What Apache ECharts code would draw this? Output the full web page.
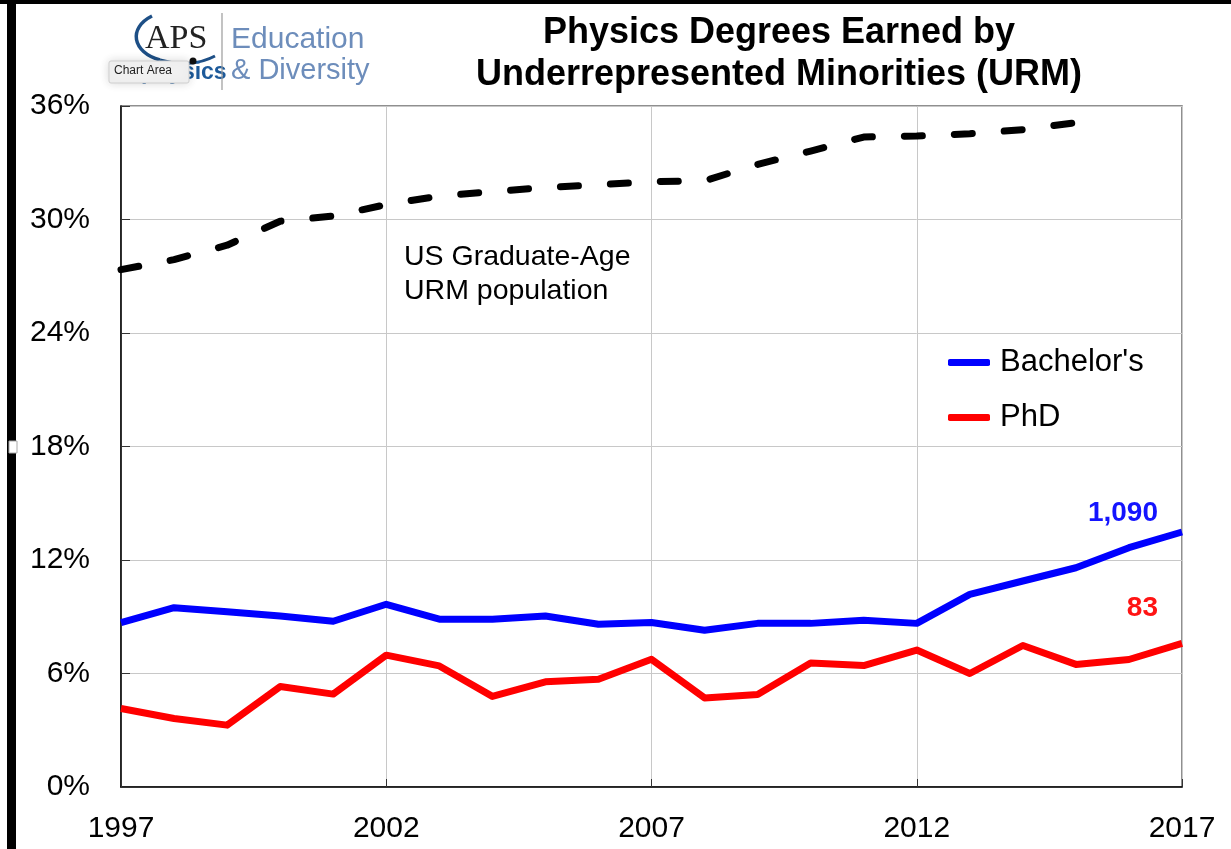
<!DOCTYPE html>
<html>
<head>
<meta charset="utf-8">
<script src="https://cdn.jsdelivr.net/npm/echarts@6/dist/echarts.min.js"></script>
<style>
html,body{margin:0;padding:0;background:#fff;}
#chart{width:1231px;height:849px;}
</style>
</head>
<body>
<div id="chart"></div>
<script>
// ---- data (percent of degrees / population) ----
const years = ['1997','1998','1999','2000','2001','2002','2003','2004','2005','2006','2007',
               '2008','2009','2010','2011','2012','2013','2014','2015','2016','2017'];
const bachelors = [8.69, 9.48, 9.27, 9.04, 8.76, 9.66, 8.87, 8.87, 9.04, 8.60, 8.70,
                   8.29, 8.65, 8.65, 8.82, 8.65, 10.18, 10.89, 11.59, 12.65, 13.48];
const phd = [4.15, 3.62, 3.27, 5.31, 4.91, 6.97, 6.40, 4.79, 5.56, 5.70, 6.75,
             4.71, 4.89, 6.56, 6.42, 7.24, 6.00, 7.48, 6.48, 6.74, 7.59];
const urmPopulation = [27.35, 27.88, 28.64, 29.91, 30.18, 30.79, 31.24, 31.47, 31.69, 31.84, 32.00,
                       32.05, 32.91, 33.62, 34.36, 34.41, 34.53, 34.75, 35.12, null, null];
const yTicks = [0, 6, 12, 18, 24, 30, 36];
const titleLines = ['Physics Degrees Earned by', 'Underrepresented Minorities (URM)'];
const bachelorsCount = '1,090';
const phdCount = '83';

const FONT = '"Liberation Sans", Arial, Helvetica, sans-serif';
const chart = echarts.init(document.getElementById('chart'), null, {renderer: 'canvas'});

const option = {
  backgroundColor: '#ffffff',
  animation: false,
  title: {
    text: titleLines.join('\n'),
    left: 774, top: 7, textAlign: 'center',
    textStyle: {fontFamily: FONT, fontSize: 36, fontWeight: 'bold', color: '#000', lineHeight: 42}
  },
  legend: {
    data: ['Bachelor\'s', 'PhD'],
    orient: 'vertical',
    left: 948, top: 347, padding: 0,
    itemWidth: 42, itemHeight: 7, itemGap: 24,
    icon: 'roundRect',
    textStyle: {fontFamily: FONT, fontSize: 31, color: '#000', padding: [0, 0, 0, 5]}
  },
  grid: {
    left: 121, right: 49, top: 106, bottom: 62,
    show: true, borderColor: '#6b6b6b', borderWidth: 1.5, backgroundColor: 'transparent'
  },
  xAxis: {
    type: 'category',
    data: years,
    boundaryGap: false,
    axisLine: {lineStyle: {color: '#000', width: 1.5}},
    axisTick: {show: true, inside: true, interval: 4, length: 8, lineStyle: {color: '#333'}},
    axisLabel: {interval: 4, fontFamily: FONT, fontSize: 30, color: '#000', margin: 27},
    splitLine: {show: true, interval: 4, lineStyle: {color: '#c8c8c8', width: 1}}
  },
  yAxis: {
    type: 'value',
    min: yTicks[0], max: yTicks[yTicks.length - 1], interval: 6,
    axisLine: {show: true, lineStyle: {color: '#000', width: 1.5}},
    axisTick: {show: true, inside: true, length: 9, lineStyle: {color: '#333'}},
    axisLabel: {formatter: '{value}%', fontFamily: FONT, fontSize: 30, color: '#000', margin: 31},
    splitLine: {show: true, lineStyle: {color: '#c8c8c8', width: 1}}
  },
  series: [
    {
      name: 'US Graduate-Age URM population',
      type: 'line',
      data: urmPopulation,
      showSymbol: false, symbol: 'none',
      connectNulls: false,
      lineStyle: {color: '#000', width: 7, type: [18, 32], cap: 'round', join: 'round'},
      itemStyle: {color: '#000'},
      z: 3
    },
    {
      name: 'Bachelor\'s',
      type: 'line',
      data: bachelors,
      showSymbol: false, symbol: 'none',
      lineStyle: {color: '#0000ff', width: 7, join: 'round'},
      itemStyle: {color: '#0000ff'},
      z: 4
    },
    {
      name: 'PhD',
      type: 'line',
      data: phd,
      showSymbol: false, symbol: 'none',
      lineStyle: {color: '#ff0000', width: 7, join: 'round'},
      itemStyle: {color: '#ff0000'},
      z: 4
    }
  ],
  graphic: [
    // screenshot frame
    {type: 'rect', shape: {x: 0, y: 0, width: 1231, height: 4}, style: {fill: '#000'}, z: 100},
    {type: 'rect', shape: {x: 7, y: 0, width: 9, height: 849}, style: {fill: '#000'}, z: 100},
    {type: 'rect', shape: {x: 9, y: 441, width: 8, height: 12}, style: {fill: '#fff', stroke: '#aaa', lineWidth: 1}, z: 101},
    // annotations
    {type: 'text', x: 404, y: 240, z: 10,
     style: {text: 'US Graduate-Age\nURM population', font: '28.5px ' + FONT, lineHeight: 34, fill: '#000'}},
    {type: 'text', x: 1158, y: 499, z: 10,
     style: {text: bachelorsCount, font: 'bold 28px ' + FONT, align: 'right', fill: '#1414ff'}},
    {type: 'text', x: 1158, y: 594, z: 10,
     style: {text: phdCount, font: 'bold 28px ' + FONT, align: 'right', fill: '#ff1414'}},
    // logo
    {type: 'bezierCurve', z: 9,
     shape: {x1: 152, y1: 16, cpx1: 128, cpy1: 28, cpx2: 132, cpy2: 52, x2: 160, y2: 60},
     style: {stroke: '#1d4f86', lineWidth: 3.5, fill: null}},
    {type: 'bezierCurve', z: 9,
     shape: {x1: 160, y1: 60, cpx1: 180, cpy1: 66, cpx2: 200, cpy2: 64, x2: 215, y2: 56},
     style: {stroke: '#1d4f86', lineWidth: 3, fill: null}},
    {type: 'text', x: 145, y: 22, z: 10,
     style: {text: 'APS', font: '34px "Liberation Serif", "DejaVu Serif", serif', fill: '#222'}},
    {type: 'circle', shape: {cx: 193, cy: 61, r: 3.5}, style: {fill: '#111'}, z: 11},
    {type: 'text', x: 141, y: 61, z: 10,
     style: {text: 'physics', font: 'bold 23px ' + FONT, fill: '#1d5a9a'}},
    {type: 'line', shape: {x1: 222, y1: 13, x2: 222, y2: 90}, style: {stroke: '#9a9a9a', lineWidth: 1.2}, z: 10},
    {type: 'text', x: 231, y: 25, z: 10,
     style: {text: 'Education', font: '30px ' + FONT, fill: '#6d8dbb'}},
    {type: 'text', x: 231, y: 56, z: 10,
     style: {text: '& Diversity', font: '29px ' + FONT, fill: '#6d8dbb'}},
    // Excel tooltip
    {type: 'rect', shape: {x: 109, y: 61, width: 80, height: 22, r: 2}, z: 20,
     style: {fill: '#f1f1f1', stroke: '#cfcfcf', lineWidth: 1, shadowBlur: 10, shadowColor: 'rgba(0,0,0,0.15)'}},
    {type: 'text', x: 114, y: 65, z: 21,
     style: {text: 'Chart Area', font: '12px ' + FONT, fill: '#222'}}
  ]
};
chart.setOption(option);
</script>
</body>
</html>
